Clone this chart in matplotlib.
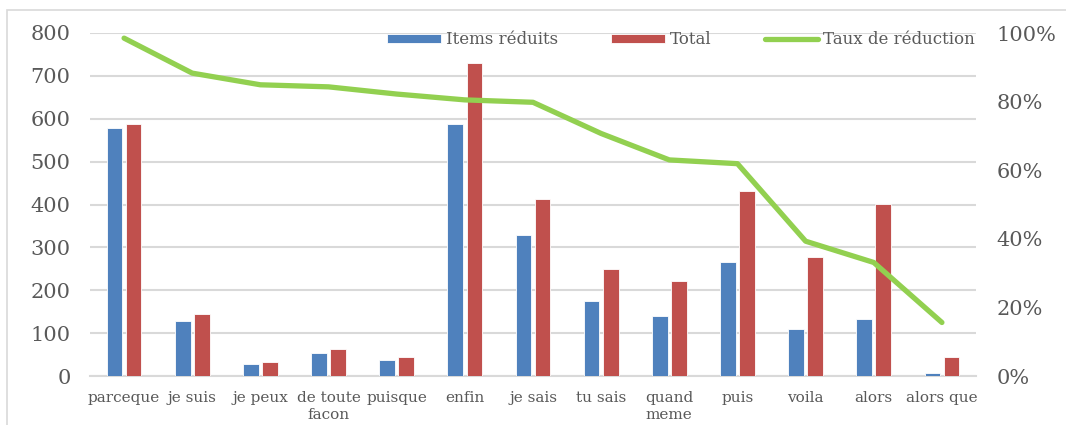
import numpy as np
import matplotlib
matplotlib.use('Agg')
import matplotlib.pyplot as plt
from matplotlib.patches import Rectangle
from matplotlib.ticker import FuncFormatter

# data
categories = ['parceque', 'je suis', 'je peux', 'de toute\nfacon', 'puisque', 'enfin',
              'je sais', 'tu sais', 'quand\nmeme', 'puis', 'voila', 'alors', 'alors que']
items_reduits = [579, 128, 28, 54, 37, 587, 329, 176, 139, 266, 109, 133, 7]
total = [588, 145, 33, 63, 45, 730, 413, 249, 221, 431, 277, 401, 45]
taux = [98.5, 88.3, 84.9, 84.3, 82.2, 80.5, 79.8, 70.7, 63.0, 61.9, 39.3, 33.1, 15.6]

blue = '#4F81BD'
red = '#C0504D'
green = '#92D050'
grey_txt = '#595959'
grid_col = '#D9D9D9'

plt.rcParams['font.family'] = ['DejaVu Serif']

fig = plt.figure(figsize=(10.66, 4.25), dpi=100)
ax = fig.add_axes([90 / 1066, 1 - 376 / 425, 886 / 1066, 343 / 425])

# outer frame of the chart area
fig.patches.append(Rectangle((7 / 1066, -0.1), 1.2, 1.1 - 10 / 425, transform=fig.transFigure,
                             fill=False, edgecolor='#D9D9D9', linewidth=1.2))

x = np.arange(len(categories))
w = 0.23
ax.bar(x - 0.14, items_reduits, w, color=blue, edgecolor='white', linewidth=0.6,
       label='Items réduits', zorder=3)
ax.bar(x + 0.14, total, w, color=red, edgecolor='white', linewidth=0.6,
       label='Total', zorder=3)

ax.set_xlim(-0.5, len(categories) - 0.5)
ax.set_ylim(0, 800)
ax.set_yticks(range(0, 801, 100))
ax.yaxis.grid(True, color=grid_col, linewidth=1.5, zorder=0)
ax.set_axisbelow(True)
for s in ['top', 'right', 'left']:
    ax.spines[s].set_visible(False)
ax.spines['bottom'].set_color(grid_col)
ax.spines['bottom'].set_linewidth(1.5)
ax.set_xticks(x)
ax.set_xticklabels(categories, fontsize=11, color=grey_txt, linespacing=1.25)
ax.tick_params(axis='x', length=0, pad=11)
ax.tick_params(axis='y', length=0, pad=14, labelsize=15, labelcolor=grey_txt)

ax2 = ax.twinx()
ax2.plot(x, np.array(taux) / 100, color=green, linewidth=3.8, solid_capstyle='round',
         label='Taux de réduction', zorder=4)
ax2.set_ylim(0, 1)
ax2.set_yticks(np.arange(0, 1.01, 0.2))
ax2.yaxis.set_major_formatter(FuncFormatter(lambda v, p: f'{v * 100:.0f}%'))
ax2.tick_params(axis='y', length=0, pad=15, labelsize=15, labelcolor=grey_txt)
for s in ax2.spines.values():
    s.set_visible(False)

h1, l1 = ax.get_legend_handles_labels()
h2, l2 = ax2.get_legend_handles_labels()
leg = ax2.legend(h1 + h2, l1 + l2, loc='center', bbox_to_anchor=(681 / 1066, 1 - 40 / 425),
                 bbox_transform=fig.transFigure, ncol=3, frameon=False, fontsize=12,
                 handlelength=3.2, handleheight=0.5, handletextpad=0.3, columnspacing=3.2)
for t in leg.get_texts():
    t.set_color(grey_txt)

fig.savefig('out.png', dpi=100)
